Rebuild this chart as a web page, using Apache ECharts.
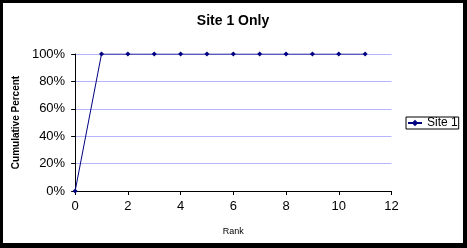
<!DOCTYPE html>
<html>
<head>
<meta charset="utf-8">
<script src="https://cdn.jsdelivr.net/npm/echarts@6/dist/echarts.min.js"></script>
<style>
html,body{margin:0;padding:0;background:#000;width:467px;height:248px;overflow:hidden;}
#c{position:absolute;left:3px;top:3px;width:460px;height:240px;background:#fff;}
</style>
</head>
<body>
<div id="c"></div>
<script>
const titleText = "Site 1 Only";
const seriesName = "Site 1";
const xAxisName = "Rank";
const yAxisName = "Cumulative Percent";
const ranks = [0, 1, 2, 3, 4, 5, 6, 7, 8, 9, 10, 11];
const cumulativePercent = [0, 100, 100, 100, 100, 100, 100, 100, 100, 100, 100, 100];

const chart = echarts.init(document.getElementById('c'), null, {renderer: 'canvas'});
const font = 'Liberation Sans, Arial, sans-serif';
chart.setOption({
  animation: false,
  backgroundColor: '#fff',
  textStyle: {fontFamily: font, color: '#000'},
  title: {
    text: titleText, left: 'center', top: 6,
    textStyle: {fontSize: 14, fontWeight: 'bold', color: '#000', fontFamily: font}
  },
  legend: {
    data: [seriesName],
    left: 403, top: 114,
    orient: 'vertical',
    borderColor: '#000', borderWidth: 1,
    padding: [0, 1, 0, 1],
    itemWidth: 14, itemHeight: 8, itemGap: 2,
    textStyle: {fontSize: 12, color: '#000', fontFamily: font}
  },
  grid: {left: 69, top: 51, right: 71.5, bottom: 52, containLabel: false},
  xAxis: {
    type: 'value', min: 0, max: 12, interval: 2,
    name: xAxisName, nameLocation: 'middle', nameGap: 36,
    nameTextStyle: {fontSize: 9, color: '#000', fontFamily: font},
    axisLine: {show: true, lineStyle: {color: '#000', width: 1}},
    axisTick: {show: true, inside: false, length: 4, lineStyle: {color: '#000'}},
    axisLabel: {fontSize: 13, color: '#000', margin: 9, fontFamily: font},
    splitLine: {show: false}
  },
  yAxis: {
    type: 'value', min: 0, max: 100, interval: 20,
    name: yAxisName, nameLocation: 'middle', nameGap: 46,
    nameTextStyle: {fontSize: 10, fontWeight: 'bold', color: '#000', fontFamily: font},
    axisLine: {show: true, lineStyle: {color: '#000', width: 1}},
    axisTick: {show: true, inside: false, length: 4, lineStyle: {color: '#000'}},
    axisLabel: {fontSize: 13, color: '#000', margin: 10, formatter: '{value}%', fontFamily: font},
    splitLine: {show: true, lineStyle: {color: '#b4b4ff', width: 1}}
  },
  series: [{
    name: seriesName,
    type: 'line',
    data: ranks.map((r, i) => [r, cumulativePercent[i]]),
    symbol: 'diamond', symbolSize: 5,
    itemStyle: {color: '#000080'},
    lineStyle: {color: '#000080', width: 1}
  }]
});
</script>
</body>
</html>
